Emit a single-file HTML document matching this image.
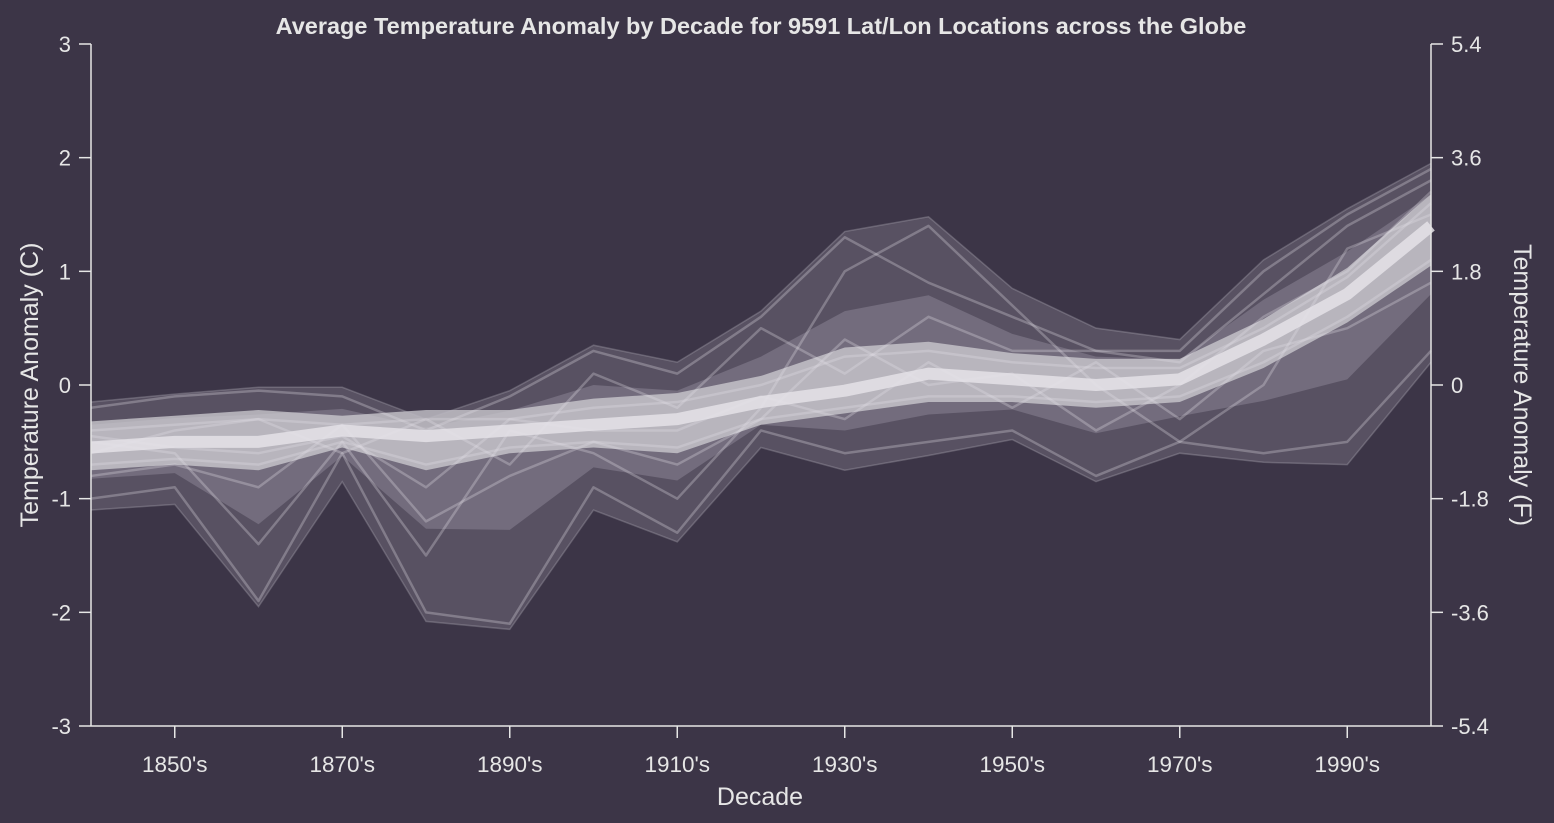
<!DOCTYPE html>
<html><head><meta charset="utf-8"><style>
html,body{margin:0;padding:0;background:#3c3547;}
svg{display:block;font-family:"Liberation Sans",Arial,sans-serif;}
</style></head><body>
<svg id="chart" width="1554" height="823" viewBox="0 0 1554 823">
<rect width="1554" height="823" fill="#3c3547"/>
<text x="761" y="34" text-anchor="middle" fill="#e6e6e6" font-size="23.5" font-weight="bold">Average Temperature Anomaly by Decade for 9591 Lat/Lon Locations across the Globe</text>
<g id="marks"></g>
<g id="axes"></g>
<text x="760" y="805" text-anchor="middle" fill="#e6e6e6" font-size="25">Decade</text>
<text transform="translate(38,385) rotate(-90)" text-anchor="middle" fill="#e6e6e6" font-size="25">Temperature Anomaly (C)</text>
<text transform="translate(1514,385) rotate(90)" text-anchor="middle" fill="#e6e6e6" font-size="25">Temperature Anomaly (F)</text>
</svg>
<script>
const decades=[1840,1850,1860,1870,1880,1890,1900,1910,1920,1930,1940,1950,1960,1970,1980,1990,2000];
const upperEnv=[-0.15,-0.08,-0.02,-0.02,-0.3,-0.05,0.35,0.2,0.65,1.35,1.48,0.85,0.5,0.4,1.1,1.55,1.95];
const lowerEnv=[-1.1,-1.05,-1.95,-0.85,-2.08,-2.15,-1.1,-1.38,-0.55,-0.75,-0.62,-0.48,-0.85,-0.6,-0.68,-0.7,0.2];
const meanSeries=[-0.55,-0.5,-0.5,-0.4,-0.45,-0.4,-0.35,-0.3,-0.15,-0.05,0.1,0.05,0.0,0.05,0.4,0.8,1.4];
const series2=[-0.4,-0.35,-0.3,-0.35,-0.3,-0.3,-0.2,-0.15,0.0,0.25,0.3,0.2,0.15,0.15,0.5,0.95,1.6];
const series3=[-0.7,-0.65,-0.7,-0.5,-0.7,-0.55,-0.5,-0.55,-0.3,-0.2,-0.1,-0.1,-0.15,-0.1,0.2,0.6,1.1];
const series4=[-0.2,-0.1,-0.05,-0.1,-0.4,-0.1,0.3,0.1,0.6,1.3,0.9,0.6,0.3,0.3,1.0,1.5,1.9];
const series5=[-1.0,-0.9,-1.9,-0.6,-2.0,-2.1,-0.9,-1.3,-0.4,-0.6,-0.5,-0.4,-0.8,-0.5,-0.6,-0.5,0.3];
const series6=[-0.5,-0.6,-1.4,-0.5,-1.5,-0.4,-0.6,-1.0,-0.2,1.0,1.4,0.7,0.0,-0.5,0.0,1.2,1.5];
const series7=[-0.6,-0.4,-0.3,-0.6,-0.3,-0.7,0.1,-0.2,0.5,0.1,0.6,0.3,0.3,0.2,0.8,1.4,1.8];
const series8=[-0.45,-0.55,-0.6,-0.45,-0.9,-0.3,-0.4,-0.4,-0.1,-0.3,0.2,-0.2,0.2,-0.3,0.3,0.5,0.9];
const series9=[-0.8,-0.7,-0.9,-0.35,-1.2,-0.8,-0.5,-0.7,-0.3,0.4,0.0,0.1,-0.4,0.0,0.6,1.0,1.7];
const yTicksC=[-3,-2,-1,0,1,2,3];
const yTicksF=["-5.4","-3.6","-1.8","0","1.8","3.6","5.4"];
const xTickLabels=["1850's","1870's","1890's","1910's","1930's","1950's","1970's","1990's"];
const xTickVals=[1850,1870,1890,1910,1930,1950,1970,1990];

const NS="http://www.w3.org/2000/svg";
const X0=91,X1=1431,Y3=44,Ym3=726;
const xs=d=>X0+(d-1840)/160*(X1-X0);
const ys=v=>Y3+(3-v)/6*(Ym3-Y3);
const marks=document.getElementById('marks'),axes=document.getElementById('axes');
function mk(tag,attrs,parent){const e=document.createElementNS(NS,tag);for(const k in attrs)e.setAttribute(k,attrs[k]);parent.appendChild(e);return e;}
function pts(arr){return arr.map((v,i)=>xs(decades[i])+','+ys(v)).join(' ');}
function bandPts(up,lo){return pts(up)+' '+lo.map((v,i)=>xs(decades[i])+','+ys(v)).reverse().join(' ');}

let band=mk('polygon',{points:bandPts(upperEnv,lowerEnv),fill:'#6f6879','fill-opacity':'0.55'},marks);


const midUp=meanSeries.map((v,i)=>(v+upperEnv[i])/2);
const midLo=meanSeries.map((v,i)=>(v+lowerEnv[i])/2);
let mid=mk('polygon',{points:bandPts(midUp,midLo),fill:'#8e8898','fill-opacity':'0.5'},marks);


const coreUp=meanSeries.map((v,i)=>Math.max(v,series2[i])+0.08);
const coreLo=meanSeries.map((v,i)=>Math.min(v,series3[i])-0.05);
let core=mk('polygon',{points:bandPts(coreUp,coreLo),fill:'#cfcdd3','fill-opacity':'0.75'},marks);



const allSeries=[series5,series6,series9,series8,series7,series4,series3,series2,meanSeries];
allSeries.forEach((s,k)=>{
  const last=k===allSeries.length-1;
  const l=mk('polyline',{points:pts(s),fill:'none',stroke:'#e4e2e8','stroke-opacity':last?'0.85':'0.3','stroke-width':last?'12':'2.5','stroke-linejoin':'round'},marks);
  
  
});
[upperEnv,lowerEnv].forEach((s,k)=>{
  const l=mk('polyline',{points:pts(s),fill:'none',stroke:'#bdb9c4','stroke-opacity':'0.3','stroke-width':'1.5'},marks);
  
  
});

const c='#e6e6e6';
let la=mk('line',{x1:X0,y1:Y3,x2:X0,y2:Ym3,stroke:c,'stroke-width':1.5},axes);

let ra=mk('line',{x1:X1,y1:Y3,x2:X1,y2:Ym3,stroke:c,'stroke-width':1.5},axes);

let ba=mk('line',{x1:X0,y1:Ym3,x2:X1,y2:Ym3,stroke:c,'stroke-width':1.5},axes);

yTicksC.forEach((v,i)=>{
  const y=ys(v);
  mk('line',{x1:X0-12,y1:y,x2:X0,y2:y,stroke:c,'stroke-width':1.5},axes);
  const t=mk('text',{x:X0-20,y:y+8,'text-anchor':'end',fill:c,'font-size':22},axes);t.textContent=v;
  
  mk('line',{x1:X1,y1:y,x2:X1+12,y2:y,stroke:c,'stroke-width':1.5},axes);
  const r=mk('text',{x:X1+20,y:y+8,'text-anchor':'start',fill:c,'font-size':22},axes);r.textContent=yTicksF[i];
  
});
xTickVals.forEach((v,i)=>{
  const x=xs(v);
  mk('line',{x1:x,y1:Ym3,x2:x,y2:Ym3+12,stroke:c,'stroke-width':1.5},axes);
  const t=mk('text',{x:x,y:772,'text-anchor':'middle',fill:c,'font-size':22.5},axes);t.textContent=xTickLabels[i];
  
});
</script>
</body></html>
